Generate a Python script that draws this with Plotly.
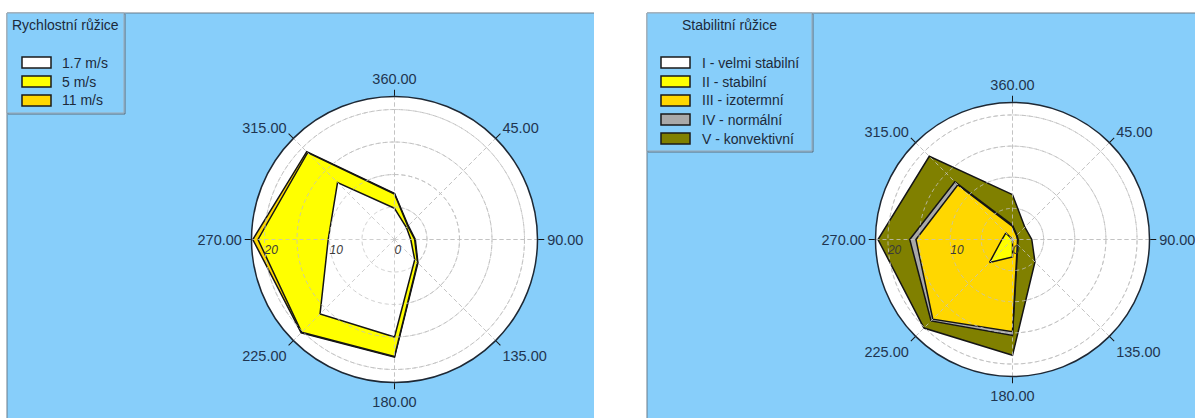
import numpy as np
import plotly.graph_objects as go

W, H = 1195, 418

# ---------------- data ----------------
DIRECTIONS = [0, 45, 90, 135, 180, 225, 270, 315]
ANGLE_LABELS = ["360.00", "45.00", "90.00", "135.00", "180.00", "225.00", "270.00", "315.00"]
RADIAL_TICKS = [0, 5, 10, 15, 20]
RADIAL_LABELS = ["0", "", "10", "", "20"]

# Rychlostní růžice (cumulative outline radii per direction)
speed_names = ["1.7 m/s", "5 m/s", "11 m/s"]
speed_colors = ["#ffffff", "#ffff00", "#ffd700"]
speed_17 = [4.8, 2.6, 2.5, 4.4, 15.0, 16.2, 10.2, 12.4]
speed_5 = [7.0, 2.9, 3.1, 5.0, 18.0, 20.2, 21.0, 18.9]
speed_11 = [7.1, 3.0, 3.2, 5.1, 18.1, 20.3, 21.8, 19.1]

# Stabilitní růžice (cumulative outline radii per direction)
stab_names = ["I - velmi stabilní", "II - stabilní", "III - izotermní", "IV - normální", "V - konvektivní"]
stab_colors = ["#ffffff", "#ffff00", "#ffd700", "#a9a9a9", "#808000"]
stab_I = [0, 0, 0, 0, 0, 0, 0, 0]
stab_II = [0, 0, 0, 0, 2.8, 5.2, 1.7, 1.5]
stab_III = [2.1, 0.9, 0.8, 1.1, 14.8, 18.1, 15.5, 12.4]
stab_IV = [2.3, 1.0, 0.9, 1.2, 15.4, 18.5, 16.5, 13.1]
stab_V = [7.2, 2.8, 3.1, 5.1, 18.6, 20.1, 21.6, 18.9]

# ---------------- helpers ----------------
def px(x):
    return x / W


def py(y):
    return 1 - y / H


PANEL_BG = "#87cefa"
TEXT = "#1c2a3a"
LINE = "#161616"
GRID = "#c4c4c4"
GRID_DASH = "4px,3px"


def closed(vals):
    return list(vals) + [vals[0]]


fig = go.Figure()


def add_rose(series, colors, names, subplot):
    # draw outermost first
    for r, c, n in reversed(list(zip(series, colors, names))):
        fig.add_trace(go.Scatterpolar(
            r=closed(r), theta=closed(DIRECTIONS), mode="lines", fill="toself",
            fillcolor=c, line=dict(color=LINE, width=1.5), name=n,
            subplot=subplot, showlegend=False, hoverinfo="skip"))
    # grid redrawn above the filled areas
    ring_theta = np.linspace(0, 360, 181)
    for rv in RADIAL_TICKS[1:]:
        fig.add_trace(go.Scatterpolar(
            r=[rv] * len(ring_theta), theta=ring_theta, mode="lines",
            line=dict(color=GRID, width=1, dash=GRID_DASH), subplot=subplot,
            showlegend=False, hoverinfo="skip", opacity=0.8))
    for th in DIRECTIONS:
        fig.add_trace(go.Scatterpolar(
            r=[0, 22], theta=[th, th], mode="lines",
            line=dict(color=GRID, width=1, dash=GRID_DASH), subplot=subplot,
            showlegend=False, hoverinfo="skip", opacity=0.8))


add_rose([speed_17, speed_5, speed_11], speed_colors, speed_names, "polar")
add_rose([stab_I, stab_II, stab_III, stab_IV, stab_V], stab_colors, stab_names, "polar2")


def polar_layout(cx, cy, rad):
    return dict(
        domain=dict(x=[px(cx - rad), px(cx + rad)], y=[py(cy + rad), py(cy - rad)]),
        bgcolor="#ffffff",
        angularaxis=dict(
            rotation=90, direction="clockwise", tickmode="array",
            tickvals=DIRECTIONS, ticktext=ANGLE_LABELS,
            ticks="outside", ticklen=6, tickcolor=LINE, tickwidth=1.2,
            showline=True, linecolor="#1e2834", linewidth=1.5,
            showgrid=True, gridcolor=GRID, griddash=GRID_DASH, gridwidth=1,
            tickfont=dict(family="Liberation Sans", size=14.5, color="#1f3550"),
        ),
        radialaxis=dict(
            range=[0, 22], tickmode="array", tickvals=RADIAL_TICKS, ticktext=RADIAL_LABELS,
            angle=180, tickangle=180, side="counterclockwise",
            showline=False, ticks="", showgrid=True,
            gridcolor=GRID, griddash=GRID_DASH, gridwidth=1,
            tickfont=dict(family="Liberation Sans", size=12, color="#3a3a3a", style="italic"),
        ),
    )


shapes = []
annotations = []

# panel backgrounds
for x0, x1 in [(7, 594), (647, 1195)]:
    shapes.append(dict(type="rect", xref="paper", yref="paper", x0=px(x0), x1=px(x1),
                       y0=py(418), y1=py(13), fillcolor=PANEL_BG, line=dict(width=0), layer="below"))
    shapes.append(dict(type="line", xref="paper", yref="paper", x0=px(x0), x1=px(x1),
                       y0=py(13), y1=py(13), line=dict(color="#6a7a88", width=1), layer="below"))
    shapes.append(dict(type="line", xref="paper", yref="paper", x0=px(x0), x1=px(x0),
                       y0=py(13), y1=py(418), line=dict(color="#6a7a88", width=1), layer="below"))


def add_legend(x0, y0, x1, y1, title, names, colors, sw_x0, txt_x, row0, step):
    shapes.append(dict(type="rect", xref="paper", yref="paper", x0=px(x0 + 1), x1=px(x1 + 1),
                       y0=py(y1 + 1), y1=py(y0 + 1), fillcolor="rgba(0,0,0,0)",
                       line=dict(color="#5c6c7a", width=1)))
    shapes.append(dict(type="rect", xref="paper", yref="paper", x0=px(x0), x1=px(x1),
                       y0=py(y1), y1=py(y0), fillcolor=PANEL_BG,
                       line=dict(color="#9aa8b4", width=1)))
    annotations.append(dict(xref="paper", yref="paper", x=px((x0 + x1) / 2), y=py(y0 + 12),
                            text=title, showarrow=False, xanchor="center", yanchor="middle",
                            font=dict(family="Liberation Sans", size=14, color=TEXT)))
    for i, (n, c) in enumerate(zip(names, colors)):
        yc = row0 + i * step
        shapes.append(dict(type="rect", xref="paper", yref="paper", x0=px(sw_x0), x1=px(sw_x0 + 29),
                           y0=py(yc + 5.5), y1=py(yc - 5.5), fillcolor=c,
                           line=dict(color="#1a1a1a", width=1.5)))
        annotations.append(dict(xref="paper", yref="paper", x=px(txt_x), y=py(yc),
                                text=n, showarrow=False, xanchor="left", yanchor="middle",
                                font=dict(family="Liberation Sans", size=14, color=TEXT)))


add_legend(7, 13, 124, 113, "Rychlostní růžice", speed_names, speed_colors, 22, 60, 62.5, 19)
add_legend(647, 13, 812, 151, "Stabilitní růžice", stab_names, stab_colors, 661, 700, 62.5, 19)

fig.update_layout(
    width=W, height=H, margin=dict(l=0, r=0, t=0, b=0),
    paper_bgcolor="#ffffff", plot_bgcolor="#ffffff", showlegend=False,
    polar=polar_layout(394.5, 239.5, 143),
    polar2=polar_layout(1012.5, 239.5, 137),
    shapes=shapes, annotations=annotations,
)

fig.write_html("out.html")
